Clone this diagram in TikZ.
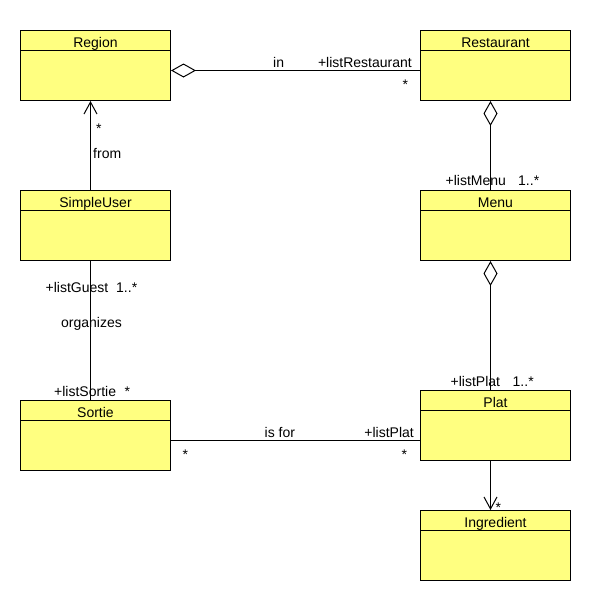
\documentclass[tikz,border=0pt]{standalone}
\usepackage{fontspec}
\setmainfont{Liberation Sans}
\usetikzlibrary{arrows.meta}
\definecolor{classfill}{RGB}{255,255,128}

% a UML class box: name, top-left corner, title
\newcommand\umlclass[4]{%
  \node[classbox] (#1) at (#2,#3) {};
  \draw[assoc] ([yshift=-20pt]#1.north west) -- ([yshift=-20pt]#1.north east);
  \node[tag, anchor=base] (#1T) at ([yshift=-17pt]#1.north) {#4};
}

\begin{document}
\begin{tikzpicture}[x=1pt,y=-1pt,
  every node/.style={font=\fontsize{14}{16}\selectfont},
  classbox/.style={draw=black, fill=classfill, line width=1pt,
    minimum width=150pt, minimum height=70pt, inner sep=0pt, anchor=north west},
  tag/.style={inner sep=0pt, anchor=base west},
  assoc/.style={draw=black, line width=1pt},
  aggr/.style={assoc, -{Diamond[fill=white, length=25pt, width=14pt, line width=1pt]}},
  nav/.style={assoc, -{Straight Barb[length=12pt, width=13pt, line width=1pt]}}]
\useasboundingbox[fill=white] (0,0) rectangle (590,600);

% classes
\umlclass{region}{20}{30}{Region}
\umlclass{restaurant}{420}{30}{Restaurant}
\umlclass{simpleuser}{20}{190}{SimpleUser}
\umlclass{menu}{420}{190}{Menu}
\umlclass{sortie}{20}{400}{Sortie}
\umlclass{plat}{420}{390}{Plat}
\umlclass{ingredient}{420}{510}{Ingredient}

% relations
\draw[aggr] ([yshift=-5pt]restaurant.west) -- ([yshift=-5pt]region.east);
\draw[aggr] ([xshift=-5pt]menu.north) -- ([xshift=-5pt]restaurant.south);
\draw[aggr] ([xshift=-5pt]plat.north) -- ([xshift=-5pt]menu.south);
\draw[nav] ([xshift=-5pt]simpleuser.north) -- ([xshift=-5pt]region.south);
\draw[assoc] ([xshift=-5pt]simpleuser.south) -- ([xshift=-5pt]sortie.north);
\draw[assoc] ([yshift=-5pt]sortie.east) -- ([yshift=-5pt]sortie.east -| plat.west);
\draw[nav] ([xshift=-5pt]plat.south) -- ([xshift=-5pt]ingredient.north);

% role names, multiplicities and association names
\node[tag] (inL) at (273,67) {in};
\node[tag, anchor=base east] (listRest) at (412,67) {+listRestaurant};
\node[tag] (restMult) at (402.5,89.5) {*};

\node[tag] (regMult) at (96,133.5) {*};
\node[tag] (fromL) at (93,158.5) {from};

\node[tag] (listMenu) at (445.5,185) {+listMenu};
\node[tag] (menuMult) at (518,185) {1..*};

\node[tag] (listGuest) at (45.5,292) {+listGuest};
\node[tag] (guestMult) at (116,292) {1..*};
\node[tag] (organizesL) at (61,327) {organizes};
\node[tag] (listSortie) at (54,396) {+listSortie};
\node[tag] (sortieMult) at (124.5,396) {*};

\node[tag] (listPlatM) at (450.5,386) {+listPlat};
\node[tag] (platMult) at (512.5,386) {1..*};

\node[tag] (isforL) at (264.5,437) {is for};
\node[tag, anchor=base east] (listPlatS) at (414,437) {+listPlat};
\node[tag] (sortieMult2) at (182.5,459) {*};
\node[tag] (platMult2) at (401.5,459) {*};

\node[tag] (ingMult) at (495.5,512) {*};
\end{tikzpicture}
\end{document}
